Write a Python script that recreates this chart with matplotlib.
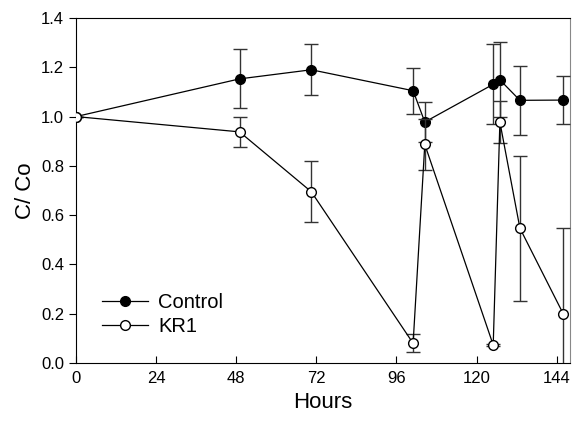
import numpy as np
import matplotlib.pyplot as plt
from matplotlib.lines import Line2D

plt.rcParams['font.family'] = ['Liberation Sans', 'DejaVu Sans']

hours = [0, 49, 70.5, 101, 104.5, 125, 127, 133, 146]
control = [1.0, 1.153, 1.19, 1.105, 0.978, 1.131, 1.149, 1.066, 1.067]
control_err = [0.0, 0.12, 0.103, 0.093, 0.08, 0.162, 0.152, 0.139, 0.097]
kr1 = [1.0, 0.938, 0.695, 0.08, 0.887, 0.073, 0.978, 0.547, 0.199]
kr1_err = [0.0, 0.062, 0.123, 0.036, 0.104, 0.004, 0.087, 0.295, 0.348]

fig = plt.figure(figsize=(5.74, 4.22), dpi=100)
ax = fig.add_axes([0.1324, 0.1398, 0.8606, 0.8175])

ax.errorbar(hours, control, yerr=control_err, fmt='-o', color='black',
            mfc='black', mec='black', ms=7, lw=0.9, elinewidth=1.0,
            ecolor='#333333', capsize=5, capthick=1.0, zorder=3)
ax.errorbar(hours, kr1, yerr=kr1_err, fmt='-o', color='black',
            mfc='white', mec='black', ms=7, lw=0.9, elinewidth=1.0,
            ecolor='#333333', capsize=5, capthick=1.0, zorder=4)

ax.set_xlim(0, 148)
ax.set_ylim(0, 1.4)
ax.set_xticks(np.arange(0, 145, 24))
ax.set_yticks(np.arange(0, 1.41, 0.2))
ax.set_yticklabels(['%.1f' % v for v in np.arange(0, 1.41, 0.2)])
ax.tick_params(axis='x', direction='in', length=5, labelsize=12, pad=6)
ax.tick_params(axis='y', direction='out', length=5, labelsize=12)
ax.spines['right'].set_color('#888888')
ax.set_xlabel('Hours', fontsize=16)
ax.set_ylabel('C/ Co', fontsize=16)

handles = [
    Line2D([], [], color='black', lw=0.9, marker='o', ms=7, mfc='black', mec='black'),
    Line2D([], [], color='black', lw=0.9, marker='o', ms=7, mfc='white', mec='black'),
]
ax.legend(handles, ['Control', 'KR1'], loc='lower left',
          bbox_to_anchor=(0.015, 0.025), frameon=False,
          fontsize=14.5, handlelength=2.3, handletextpad=0.5,
          labelspacing=0.25)

fig.savefig('out.png', dpi=100)
